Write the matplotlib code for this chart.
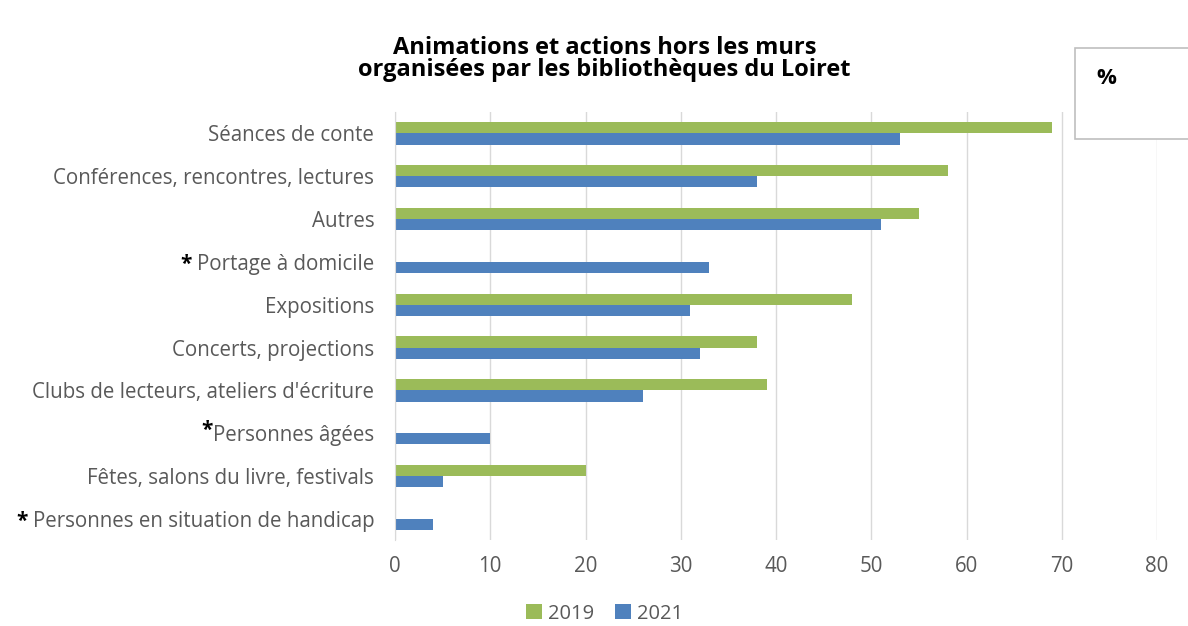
import matplotlib.pyplot as plt
import numpy as np
from matplotlib.patches import Rectangle

plt.rcParams['font.family'] = ['Open Sans', 'DejaVu Sans']

categories = ["Séances de conte", "Conférences, rencontres, lectures", "Autres",
              "Portage à domicile", "Expositions", "Concerts, projections",
              "Clubs de lecteurs, ateliers d'écriture", "Personnes âgées",
              "Fêtes, salons du livre, festivals", "Personnes en situation de handicap"]
starred = ["Portage à domicile", "Personnes âgées", "Personnes en situation de handicap"]
v2019 = [69, 58, 55, np.nan, 48, 38, 39, np.nan, 20, np.nan]
v2021 = [53, 38, 51, 33, 31, 32, 26, 10, 5, 4]
xticks = [0, 10, 20, 30, 40, 50, 60, 70, 80]

green = '#9BBB59'
blue = '#4F81BD'
grey = '#595959'

fig = plt.figure(figsize=(11.88, 6.26), dpi=100)
ax = fig.add_axes([0.3325, 0.137, 0.6415, 0.684])

y = np.arange(len(categories))
h = 0.26
ax.barh(y - h / 2, v2019, h, color=green, label='2019')
ax.barh(y + h / 2, v2021, h, color=blue, label='2021')
ax.set_ylim(len(categories) - 0.5, -0.5)
ax.set_xlim(0, 80)
ax.set_xticks(xticks)
ax.set_yticks(y)
ax.set_yticklabels(categories)
ax.tick_params(axis='both', length=0, labelsize=14.8, colors=grey)
ax.tick_params(axis='y', pad=15)
ax.tick_params(axis='x', pad=11)
ax.grid(axis='x', color='#D9D9D9', linewidth=1)
ax.set_axisbelow(True)
for s in ['top', 'right', 'bottom']:
    ax.spines[s].set_visible(False)
ax.spines['left'].set_color('#D9D9D9')

fig.text(0.509, 1 - 48 / 626, "Animations et actions hors les murs",
         ha='center', va='center', fontsize=17, fontweight='bold')
fig.text(0.509, 1 - 70 / 626, "organisées par les bibliothèques du Loiret",
         ha='center', va='center', fontsize=17, fontweight='bold')

# % box
fig.patches.append(Rectangle((1075 / 1188, 1 - 139 / 626), 0.2, 91 / 626, transform=fig.transFigure,
                             facecolor='white', edgecolor='#BFBFBF', linewidth=1.2, zorder=5))
fig.text(1106 / 1188, 1 - 78 / 626, "%", ha='center', va='center', fontsize=16, fontweight='bold', zorder=6)

fig.legend(loc='lower center', bbox_to_anchor=(0.509, -0.025), ncol=2, frameon=False,
           fontsize=14.5, handlelength=0.8, handleheight=0.8, columnspacing=1.0, handletextpad=0.3,
           labelcolor=grey)

# black asterisks left of starred labels
fig.canvas.draw()
r = fig.canvas.get_renderer()
for lab in ax.get_yticklabels():
    if lab.get_text() in starred:
        bb = lab.get_window_extent(r)
        sup = lab.get_text() == "Personnes âgées"
        dx = 0 if sup else 5
        dy = 5 if sup else 0
        fig.text((bb.x0 - dx) / 1188, (bb.y0 + bb.y1) / 2 / 626 + dy / 626, "*",
                 ha='right', va='center', fontsize=15, fontweight='bold', color='black')

fig.savefig('out.png', dpi=100)
